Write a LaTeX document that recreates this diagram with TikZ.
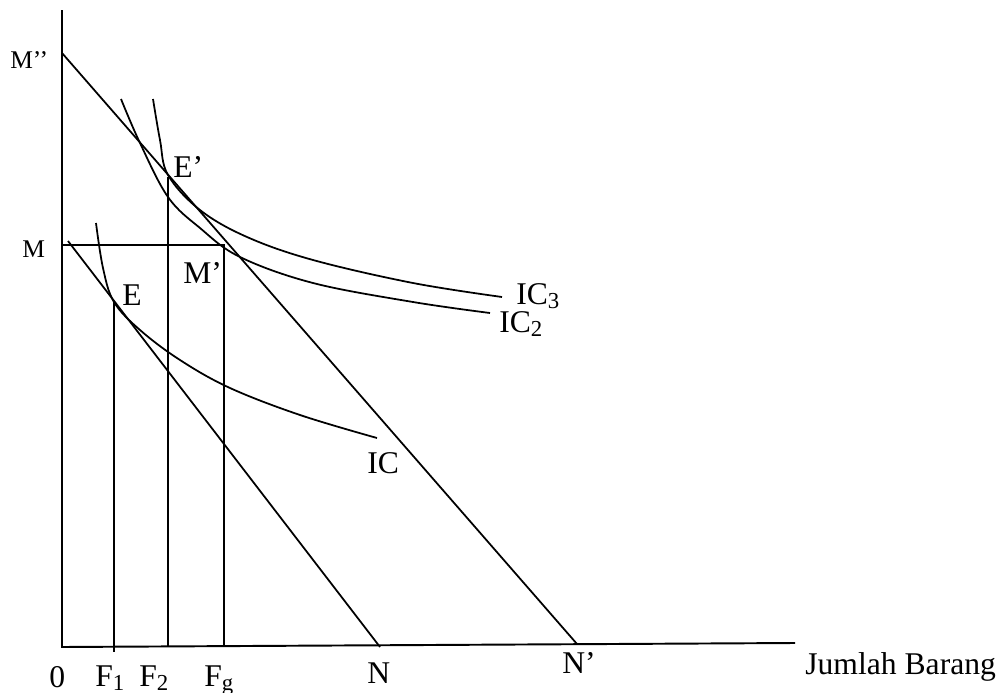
\documentclass[tikz,border=0pt]{standalone}
\usepackage{fontspec}
\setmainfont{Liberation Serif}
\usetikzlibrary{positioning}

\newcommand{\lowsub}[1]{\raisebox{-2.5pt}{\fontsize{13}{15}\selectfont #1}}

\tikzset{
  axisline/.style={line width=1.1pt},
  budget/.style={line width=1pt},
  guide/.style={line width=0.9pt},
  iccurve/.style={line width=1pt, smooth, tension=0.6},
  lblbig/.style={anchor=base west, inner sep=0pt, font=\fontsize{18}{20}\selectfont},
  lblsmall/.style={anchor=base west, inner sep=0pt, font=\fontsize{14.5}{16}\selectfont}
}

\begin{document}
\begin{tikzpicture}[x=0.02cm, y=-0.02cm]

% Frame
\useasboundingbox (0,0) rectangle (1001,693);

% Points
\coordinate (O) at (62,647);
\coordinate (Ytop) at (62,10);
\coordinate (Xend) at (795,643);
\coordinate (Mpp) at (62,53);
\coordinate (Np) at (577,644);
\coordinate (M) at (62,245);
\coordinate (Mp) at (224,245);
\coordinate (Mstart) at (68,241);
\coordinate (N) at (380,647);
\coordinate (E) at (114,302);
\coordinate (Ep) at (168,177);
\coordinate (F1) at (114,652);
\coordinate (F2) at (168,647);
\coordinate (Fg) at (224,646);

% Axes
\draw[axisline] (Ytop) -- (O) -- (Xend);

% Budget lines
\draw[budget] (Mpp) -- (Np);
\draw[budget] (Mstart) -- (N);
\draw[guide] (M) -- (Mp) -- (Fg);

% Drop lines
\draw[guide] (E) -- (F1);
\draw[guide] (Ep) -- (F2);

% Indifference curves
\draw[iccurve] plot coordinates {(96,223) (103,268) (114,302) (140,330) (180,360) (230,388) (300,415) (377,438)};
\draw[iccurve] plot coordinates {(121,99) (140,143) (168,197) (200,228) (240,257) (313,283) (413,302) (490,313)};
\draw[iccurve] plot coordinates {(153,99) (160,140) (168,175) (200,210) (247,237) (313,260) (413,283) (502,297)};

% Labels
\node[lblsmall] (lMpp) at (10,68) {M’’};
\node[lblsmall] (lM) at (22,257) {M};
\node[lblbig] (lEp) at (173,177) {E’};
\node[lblbig] (lE) at (122,305) {E};
\node[lblbig] (lMp) at (183,283) {M’};
\node[lblbig] (lIC) at (367,473) {IC};
\node[lblbig] (lIC2) at (499,332) {IC\lowsub{2}};
\node[lblbig] (lIC3) at (516,304) {IC\lowsub{3}};
\node[lblbig] (lO) at (49,687) {0};
\node[lblbig] (lF1) at (95,686) {F\lowsub{1}};
\node[lblbig] (lF2) at (139,686) {F\lowsub{2}};
\node[lblbig] (lFg) at (204,686) {F\lowsub{g}};
\node[lblbig] (lN) at (367,683) {N};
\node[lblbig] (lNp) at (562,673) {N’};
\node[lblbig] (lX) at (805,674) {Jumlah Barang};

\end{tikzpicture}
\end{document}
